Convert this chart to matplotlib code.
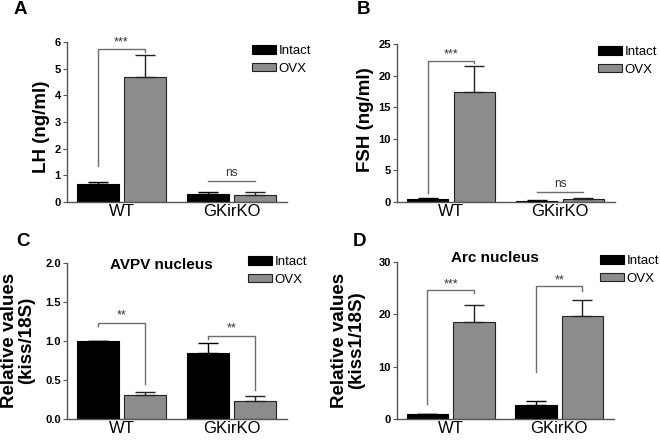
import numpy as np
import matplotlib.pyplot as plt

plt.rcParams['font.family'] = ['Liberation Sans', 'DejaVu Sans']

groups = ["WT", "GKirKO"]
series = ["Intact", "OVX"]

# panel A - LH
lh_intact = [0.68, 0.31]
lh_intact_err = [0.08, 0.08]
lh_ovx = [4.68, 0.28]
lh_ovx_err = [0.82, 0.10]

# panel B - FSH
fsh_intact = [0.55, 0.22]
fsh_intact_err = [0.12, 0.04]
fsh_ovx = [17.4, 0.45]
fsh_ovx_err = [4.1, 0.25]

# panel C - AVPV kiss/18S
avpv_intact = [1.0, 0.85]
avpv_intact_err = [0.0, 0.13]
avpv_ovx = [0.31, 0.23]
avpv_ovx_err = [0.04, 0.07]

# panel D - Arc kiss1/18S
arc_intact = [1.0, 2.7]
arc_intact_err = [0.0, 0.75]
arc_ovx = [18.5, 19.6]
arc_ovx_err = [3.3, 3.1]

# significance brackets: (group, y_left, y_top, y_right, label, label_y)
sig_a = [(0, 1.35, 5.72, 5.62, "***", 5.98), (1, 0.78, 0.78, 0.78, "ns", 1.08)]
sig_b = [(0, 1.43, 22.35, 22.0, "***", 23.4), (1, 1.64, 1.64, 1.64, "ns", 2.9)]
sig_c = [(0, 1.19, 1.234, 0.45, "**", 1.33), (1, 1.03, 1.07, 0.37, "**", 1.16)]
sig_d = [(0, 2.85, 24.7, 24.1, "***", 25.8), (1, 9.0, 25.5, 24.5, "**", 26.4)]

W, H = 660, 441
fig = plt.figure(figsize=(6.6, 4.41), dpi=100)

gray = '#8c8c8c'
spine_c = '#555555'
off = 0.214
bw = 0.38


def px_axes(l, r, t, b):
    return fig.add_axes([l / W, 1 - b / H, (r - l) / W, (b - t) / H])


def panel(ax, intact, ierr, ovx, oerr, ymax, step, fmt, sigs):
    x = np.arange(len(groups))
    ax.bar(x - off, intact, bw, color='black', edgecolor='black', lw=0.8, label=series[0], zorder=2)
    ax.bar(x + off, ovx, bw, color=gray, edgecolor='#222222', lw=0.8, label=series[1], zorder=2)
    ax.errorbar(x - off, intact, yerr=[np.zeros(2), ierr], fmt='none', ecolor='black',
                elinewidth=1, capsize=7.5, capthick=1, zorder=3)
    ax.errorbar(x + off, ovx, yerr=[np.zeros(2), oerr], fmt='none', ecolor='#222222',
                elinewidth=1, capsize=7.5, capthick=1, zorder=3)
    for g, yl, yt, yr, lab, ly in sigs:
        ax.plot([g - off, g - off, g + off, g + off], [yl, yt, yt, yr], color='#6e6e6e',
                lw=1, zorder=1, clip_on=False)
        fs = 9 if '*' in lab else 8.5
        ax.text(g, ly, lab, ha='center', va='center', fontsize=fs, color='#333333')
    ax.set_xlim(-0.495, 1.505)
    ax.set_ylim(0, ymax)
    ticks = np.arange(0, ymax + step / 2, step)
    ax.set_yticks(ticks)
    ax.set_yticklabels([fmt.format(t) for t in ticks], fontsize=8, fontweight='bold')
    ax.set_xticks(x)
    ax.set_xticklabels(groups, fontsize=12)
    ax.tick_params(axis='x', length=0, pad=1.5)
    ax.tick_params(axis='y', length=3, width=0.8, color=spine_c, pad=1.5)
    for s in ['top', 'right']:
        ax.spines[s].set_visible(False)
    for s in ['left', 'bottom']:
        ax.spines[s].set_color(spine_c)
        ax.spines[s].set_linewidth(1)


def legend_at(ax, xpx, ypx):
    ax.legend(loc='upper left', bbox_to_anchor=(xpx / W, 1 - ypx / H), bbox_transform=fig.transFigure,
              frameon=False, fontsize=9.5, borderpad=0, borderaxespad=0, handlelength=1.8,
              handleheight=0.6, handletextpad=0.2, labelspacing=0.45)


ax_a = px_axes(67, 287, 42, 202)
panel(ax_a, lh_intact, lh_intact_err, lh_ovx, lh_ovx_err, 6, 1, "{:.0f}", sig_a)
legend_at(ax_a, 252, 45)

ax_b = px_axes(397, 615, 44, 202)
panel(ax_b, fsh_intact, fsh_intact_err, fsh_ovx, fsh_ovx_err, 25, 5, "{:.0f}", sig_b)
legend_at(ax_b, 598, 46)

ax_c = px_axes(67, 287, 263, 419)
panel(ax_c, avpv_intact, avpv_intact_err, avpv_ovx, avpv_ovx_err, 2.0, 0.5, "{:.1f}", sig_c)
legend_at(ax_c, 248, 256)
ax_c.text(0.43, 0.99, "AVPV nucleus", transform=ax_c.transAxes, ha='center', va='center',
          fontsize=11, fontweight='bold')

ax_d = px_axes(397, 614, 262, 419)
panel(ax_d, arc_intact, arc_intact_err, arc_ovx, arc_ovx_err, 30, 10, "{:.0f}", sig_d)
legend_at(ax_d, 600, 255)
ax_d.text(0.45, 1.025, "Arc nucleus", transform=ax_d.transAxes, ha='center', va='center',
          fontsize=11, fontweight='bold')

# y labels and panel letters
def ftext(xpx, ypx, s, **kw):
    fig.text(xpx / W, 1 - ypx / H, s, ha='center', va='center', fontweight='bold', **kw)

ftext(41, 127, "LH (ng/ml)", rotation=90, fontsize=13.5)
ftext(366, 120, "FSH (ng/ml)", rotation=90, fontsize=13.5)
ftext(18, 340, "Relative values\n(kiss/18S)", rotation=90, fontsize=13.5, linespacing=1.0)
ftext(348, 340, "Relative values\n(kiss1/18S)", rotation=90, fontsize=13.5, linespacing=1.0)

ftext(20, 9, "A", fontsize=13.5)
ftext(364, 9, "B", fontsize=13.5)
ftext(23, 242, "C", fontsize=13.5)
ftext(360, 241, "D", fontsize=13.5)

fig.savefig("out.png", dpi=100)
